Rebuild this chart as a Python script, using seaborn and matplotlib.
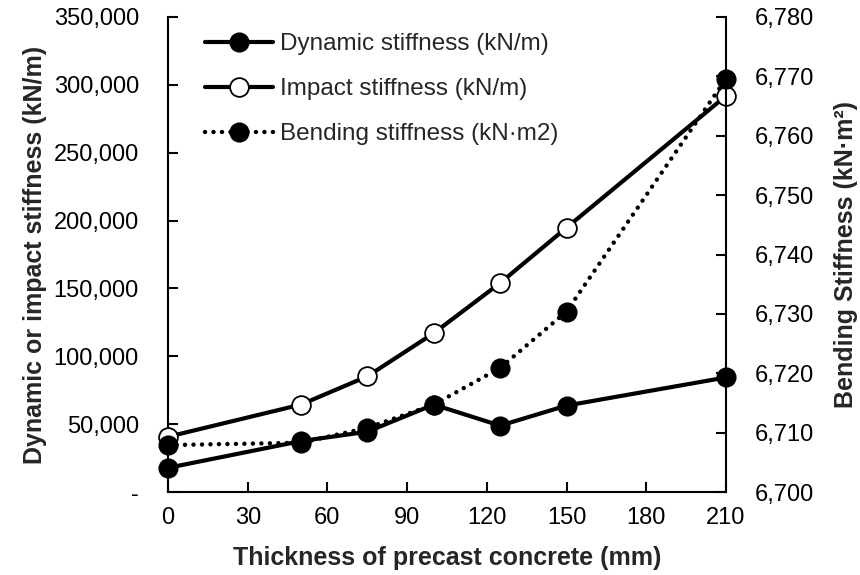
import matplotlib
matplotlib.use("Agg")
import matplotlib.pyplot as plt
from matplotlib.ticker import FuncFormatter, MultipleLocator
from matplotlib.lines import Line2D
import seaborn as sns
import pandas as pd

# ---- data ----
thickness = [0, 50, 75, 100, 125, 150, 210]
dynamic_stiffness = [17800, 37500, 44400, 64400, 48900, 63700, 84400]
impact_stiffness = [40700, 64400, 85200, 117000, 154000, 194800, 291900]
bending_stiffness = [6707.9, 6708.3, 6710.8, 6714.7, 6720.9, 6730.4, 6769.6]

x_ticks = [0, 30, 60, 90, 120, 150, 180, 210]
labels = ["Dynamic stiffness (kN/m)", "Impact stiffness (kN/m)", "Bending stiffness (kN\u00b7m2)"]

sns.set_theme(style="white")
plt.rcParams["font.family"] = ["Liberation Sans", "DejaVu Sans"]

FS = 17
LFS = 18
fig = plt.figure(figsize=(8.6, 5.75), dpi=100)
ax = fig.add_axes([168 / 860, 1 - 492 / 575, (726 - 168) / 860, (492 - 17) / 575])
ax2 = ax.twinx()

df = pd.DataFrame({"x": thickness, "dyn": dynamic_stiffness, "imp": impact_stiffness,
                   "bend": bending_stiffness})

lw = 3.0
dlw = 3.2
dots = (0, (0.01, 1.9))
ms = 13.5
sns.lineplot(data=df, x="x", y="dyn", ax=ax, color="black", linewidth=lw, marker="o",
             markersize=ms, markerfacecolor="black", markeredgecolor="black",
             markeredgewidth=1.0, sort=False, zorder=3, clip_on=False)
sns.lineplot(data=df, x="x", y="imp", ax=ax, color="black", linewidth=lw, marker="o",
             markersize=ms, markerfacecolor="white", markeredgecolor="black",
             markeredgewidth=1.3, sort=False, zorder=3, clip_on=False)
sns.lineplot(data=df, x="x", y="bend", ax=ax2, color="black", linewidth=dlw, marker="o",
             markersize=ms, markerfacecolor="black", markeredgecolor="black",
             markeredgewidth=1.0, sort=False, zorder=3, clip_on=False)
dot_line = ax2.get_lines()[0]
dot_line.set_linestyle(dots)
dot_line.set_dash_capstyle("round")

ax.set_xlim(0, 210)
ax.set_ylim(0, 350000)
ax2.set_ylim(6700, 6780)
ax.set_xticks(x_ticks)
ax.yaxis.set_major_locator(MultipleLocator(50000))
ax2.yaxis.set_major_locator(MultipleLocator(10))
ax.yaxis.set_major_formatter(FuncFormatter(lambda v, p: "-" if abs(v) < 1e-9 else f"{v:,.0f}"))
ax2.yaxis.set_major_formatter(FuncFormatter(lambda v, p: f"{v:,.0f}"))

for a in (ax, ax2):
    a.spines["top"].set_visible(False)
    for s in ("left", "right", "bottom"):
        a.spines[s].set_color("black")
        a.spines[s].set_linewidth(1.5)
    a.set_facecolor("none")
ax2.spines["left"].set_visible(False)
ax2.spines["bottom"].set_visible(False)
ax.spines["right"].set_visible(False)

ax.tick_params(axis="both", direction="in", length=7, width=1.5, colors="black",
               labelsize=FS, left=True, bottom=True)
ax.tick_params(axis="y", pad=21)
ax.tick_params(axis="x", pad=11)
ax2.tick_params(axis="y", direction="in", length=7, width=1.5, colors="black",
                labelsize=FS, pad=21, right=True)

ax.set_xlabel("Thickness of precast concrete (mm)", fontsize=LFS, fontweight="bold", labelpad=12)
ax.set_ylabel("Dynamic or impact stiffness (kN/m)", fontsize=LFS, fontweight="bold", labelpad=5)
ax2.set_ylabel("Bending Stiffness (kN\u00b7m\u00b2)", fontsize=LFS, fontweight="bold", labelpad=14)

handles = [
    Line2D([], [], color="black", linewidth=lw, marker="o", markersize=ms,
           markerfacecolor="black", markeredgecolor="black"),
    Line2D([], [], color="black", linewidth=lw, marker="o", markersize=ms,
           markerfacecolor="white", markeredgecolor="black", markeredgewidth=1.3),
    Line2D([], [], color="black", linewidth=dlw, linestyle=dots,
           dash_capstyle="round", marker="o", markersize=ms,
           markerfacecolor="black", markeredgecolor="black"),
]
leg = fig.legend(handles, labels, loc="upper left",
                 bbox_to_anchor=(205 / 860, 1 - 33 / 575), bbox_transform=fig.transFigure,
                 frameon=False, fontsize=17.5, handlelength=2.8, handletextpad=0.3,
                 labelspacing=0.95, borderpad=0, borderaxespad=0)

ax.grid(False)
ax2.grid(False)
fig.savefig("out.png", dpi=100)
